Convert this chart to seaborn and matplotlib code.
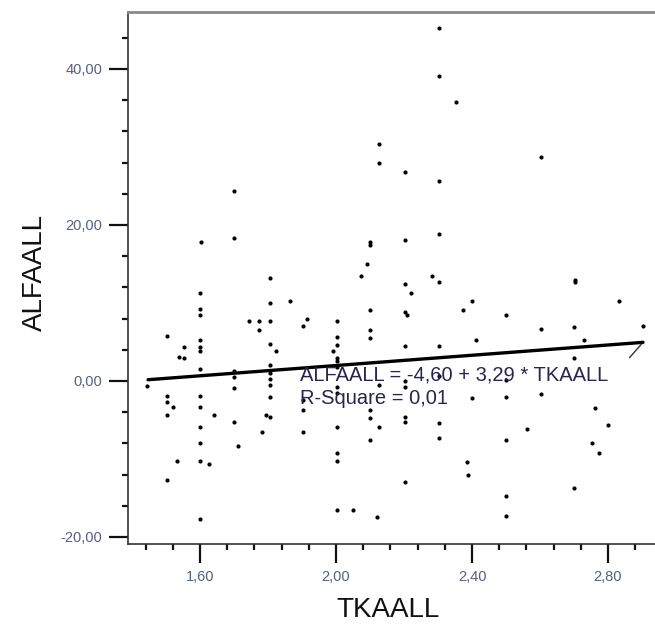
import matplotlib
matplotlib.use("Agg")
import matplotlib.pyplot as plt
import seaborn as sns
import pandas as pd
import numpy as np
from matplotlib.ticker import MultipleLocator, FixedLocator

# ---- data ----
tkaall = [
    2.127, 2.127, 1.701, 1.603, 1.701, 2.100, 2.100, 2.090, 2.073, 1.806,
    2.303, 2.303, 2.352, 2.603, 2.203, 2.303, 2.203, 2.303, 2.281, 2.703,
    1.601, 1.865, 1.805, 1.600, 1.600, 2.100, 1.744, 1.773, 1.805, 2.002,
    1.916, 1.902, 1.773, 2.100, 2.100, 2.002, 2.002, 1.992, 2.002, 2.002,
    1.502, 1.600, 1.600, 1.600, 1.552, 1.539, 1.552, 1.822, 1.805, 1.600,
    1.701, 1.701, 1.701, 1.805, 1.805, 1.805, 1.805, 1.805, 1.793, 1.805,
    1.443, 1.502, 1.502, 1.520, 1.502, 1.600, 1.600, 1.600, 1.600, 1.600,
    1.625, 1.600, 1.531, 1.502, 1.641, 1.701, 1.712, 1.783, 1.902, 1.902,
    1.902, 2.002, 2.002, 2.002, 2.002, 2.051, 2.121, 2.100, 2.100, 2.127,
    2.127, 2.100, 2.002, 2.002, 2.002, 2.203, 2.221, 2.303, 2.703, 2.203,
    2.208, 2.373, 2.400, 2.500, 2.832, 2.603, 2.701, 2.904, 2.729, 2.412,
    2.203, 2.303, 2.701, 2.203, 2.203, 2.500, 2.303, 2.400, 2.500, 2.603,
    2.203, 2.203, 2.303, 2.303, 2.762, 2.801, 2.561, 2.500, 2.752, 2.774,
    2.384, 2.389, 2.203, 2.701, 2.500, 2.500,
]
alfaall = [
    30.4, 28.0, 24.4, 17.8, 18.3, 17.8, 17.4, 15.0, 13.5, 13.2,
    45.3, 39.1, 35.8, 28.7, 26.8, 25.6, 18.1, 18.8, 13.5, 13.0,
    11.3, 10.2, 10.0, 9.2, 8.5, 9.1, 7.7, 7.7, 7.7, 7.7,
    7.9, 7.0, 6.5, 6.5, 5.5, 5.6, 4.6, 3.9, 3.0, 2.6,
    5.8, 5.3, 4.3, 3.9, 4.3, 3.1, 2.9, 3.9, 4.8, 1.5,
    1.3, 0.5, -0.9, 2.1, 1.0, 0.3, -0.5, -2.1, -4.4, -4.6,
    -0.7, -1.9, -2.7, -3.4, -4.4, -1.9, -3.4, -5.9, -7.9, -10.2,
    -10.7, -17.7, -10.2, -12.7, -4.4, -5.3, -8.3, -6.6, -2.4, -3.7,
    -6.6, -5.9, -9.2, -10.2, -16.5, -16.5, -17.5, -3.7, -4.7, -0.5,
    -5.9, -7.6, 1.8, -0.8, -1.6, 12.4, 11.3, 12.7, 12.7, 8.9,
    8.4, 9.1, 10.2, 8.4, 10.2, 6.7, 6.9, 7.0, 5.3, 5.3,
    4.5, 4.5, 3.0, 0.0, -0.8, 0.1, 0.6, -2.2, -2.0, -1.7,
    -4.6, -5.2, -5.4, -7.3, -3.5, -5.6, -6.2, -7.6, -8.0, -9.2,
    -10.4, -12.1, -13.0, -13.7, -14.8, -17.3,
]

fit_intercept = -4.60
fit_slope = 3.29
fit_x_range = [1.447, 2.903]

x_ticks = [1.6, 2.0, 2.4, 2.8]
x_tick_labels = ["1,60", "2,00", "2,40", "2,80"]
y_ticks = [-20, 0, 20, 40]
y_tick_labels = ["-20,00", "0,00", "20,00", "40,00"]

eq_lines = ["ALFAALL = -4,60 + 3,29 * TKAALL", "R-Square = 0,01"]

# ---- figure ----
sns.set_style("white")
plt.rcParams["font.family"] = ["Liberation Sans", "DejaVu Sans"]

fig = plt.figure(figsize=(6.55, 6.28), dpi=100)
ax = fig.add_axes([128 / 655, 84 / 628, 532 / 655, 532 / 628])

df = pd.DataFrame({"TKAALL": tkaall, "ALFAALL": alfaall})
sns.scatterplot(data=df, x="TKAALL", y="ALFAALL", ax=ax, color="black",
                marker="o", s=9, linewidth=0, zorder=3)

fit_df = pd.DataFrame({"x": fit_x_range,
                       "y": [fit_intercept + fit_slope * v for v in fit_x_range]})
sns.lineplot(data=fit_df, x="x", y="y", ax=ax, color="black", linewidth=2.4,
             zorder=4)
ax.annotate("", xy=(fit_df["x"].iloc[-1], fit_df["y"].iloc[-1]),
            xytext=(-11, -12.5), textcoords="offset points",
            arrowprops=dict(arrowstyle="-", color="#333333", lw=1.0))

ax.text(1.894, 0.8, eq_lines[0], fontsize=14.5, color="#26264f",
        va="center", ha="left", zorder=5)
ax.text(1.894, -2.3, eq_lines[1], fontsize=14.5, color="#26264f",
        va="center", ha="left", zorder=5)

ax.set_xlim(1.388, 2.953)
ax.set_ylim(-20.9, 47.3)

ax.xaxis.set_major_locator(FixedLocator(x_ticks))
ax.set_xticklabels(x_tick_labels)
ax.xaxis.set_minor_locator(MultipleLocator(0.08))
ax.yaxis.set_major_locator(FixedLocator(y_ticks))
ax.set_yticklabels(y_tick_labels)
ax.yaxis.set_minor_locator(MultipleLocator(4))

ax.tick_params(axis="both", which="major", direction="out", length=13.5,
               width=1.6, color="#111111", labelsize=10.5, labelcolor="#56607f",
               pad=5)
ax.tick_params(axis="both", which="minor", direction="out", length=4,
               width=1.6, color="#111111")
ax.tick_params(left=True, bottom=True, which="both")

for side in ["left", "bottom"]:
    ax.spines[side].set_color("#333333")
    ax.spines[side].set_linewidth(1.2)
ax.spines["top"].set_color("#8a8a8a")
ax.spines["top"].set_linewidth(2.0)
ax.spines["right"].set_visible(False)

ax.set_xlabel("TKAALL", fontsize=20, color="#111111")
ax.set_ylabel("ALFAALL", fontsize=20, color="#111111")
ax.xaxis.set_label_coords(0.489, -0.124)
ax.xaxis.label.set_verticalalignment("center")
ax.yaxis.set_label_coords(-0.175, 0.51)
ax.yaxis.label.set_verticalalignment("center")

fig.savefig("out.png", dpi=100)
